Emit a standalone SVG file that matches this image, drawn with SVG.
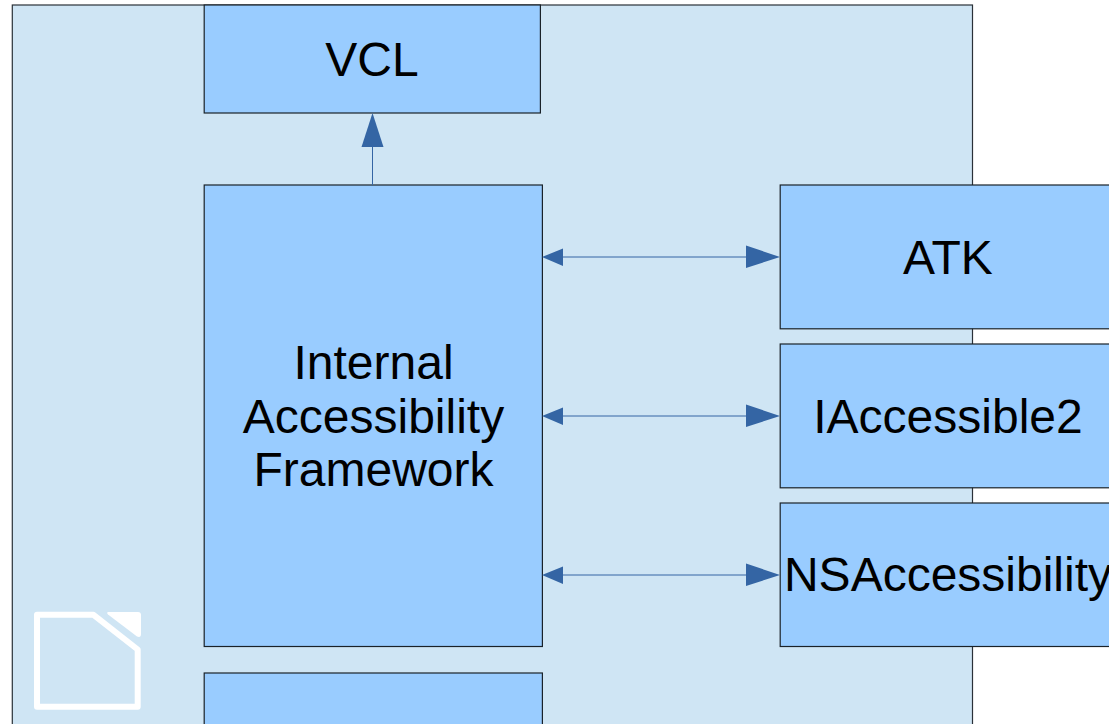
<svg xmlns="http://www.w3.org/2000/svg" width="1109" height="724" viewBox="0 0 1109 724">
<style>
.box{fill:#99ccff;stroke:#1a2229;stroke-width:1.2}
.lbl{font-family:"Liberation Sans",Arial,sans-serif;font-size:48px;fill:#000;text-anchor:middle}
.ln{stroke:#3465a4;stroke-width:1;fill:none}
.ah{fill:#3465a4}
</style>
<rect width="1109" height="724" fill="#fff"/>
<g id="container">
<rect x="12.300" y="5" width="960.200" height="730" fill="#cfe5f4" stroke="#2a3138" stroke-width="1.200"/>
</g>
<g id="logo" fill="none">
<path d="M37 614.800H93.500L137.700 649.500V706.700H37Z" stroke="#fff" stroke-width="6" stroke-linejoin="round"/>
<path d="M108.500 612H138Q141 612 141 615V634Q141 638 137 636.500L108 614.500Q106 612 108.500 612Z" fill="#fff"/>
</g>
<g id="vcl"><rect class="box" x="204.200" y="5" width="336.200" height="108"/><text class="lbl" x="372" y="76">VCL</text></g>
<g id="iaf"><rect class="box" x="204.200" y="185" width="338.200" height="461.500"/>
<text class="lbl" x="373.500" y="379">Internal</text><text class="lbl" x="373.500" y="433">Accessibility</text><text class="lbl" x="373.500" y="486">Framework</text></g>
<g id="bottom"><rect class="box" x="204.200" y="673" width="338.200" height="70"/></g>
<g id="atk"><rect class="box" x="780.200" y="185" width="340" height="143.800"/><text class="lbl" x="948" y="274">ATK</text></g>
<g id="ia2"><rect class="box" x="780.200" y="344" width="340" height="143.800"/><text class="lbl" x="948" y="433">IAccessible2</text></g>
<g id="nsa"><rect class="box" x="780.200" y="503" width="340" height="143.500"/><text class="lbl" x="948" y="591">NSAccessibility</text></g>
<g id="connectors">
<path class="ln" d="M372.500 185V147"/><path class="ah" d="M372.500 113L383.500 147H361.500Z"/>
<path class="ln" d="M563 257H746"/><path class="ah" d="M542 257L563 248.500V266Z"/><path class="ah" d="M780 257L746 245.500V268Z"/>
<path class="ln" d="M563 416H746"/><path class="ah" d="M542 416L563 407.500V425Z"/><path class="ah" d="M780 416L746 404.500V427Z"/>
<path class="ln" d="M563 575H746"/><path class="ah" d="M542 575L563 566.500V584Z"/><path class="ah" d="M780 575L746 563.500V586Z"/>
</g>
</svg>
